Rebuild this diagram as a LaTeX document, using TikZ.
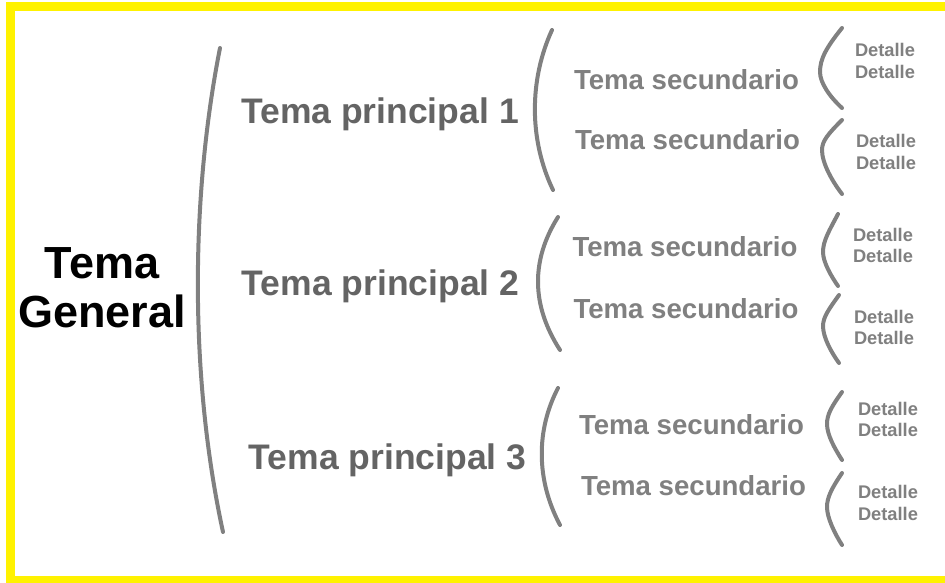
\documentclass[tikz,border=0pt]{standalone}
\usepackage{fontspec}
\setmainfont{Liberation Sans}

\definecolor{marcoAmarillo}{RGB}{255,242,0}
\definecolor{llaveGris}{RGB}{128,128,128}
\definecolor{textoPrincipal}{RGB}{100,100,100}
\definecolor{textoSecundario}{RGB}{128,128,128}

\begin{document}
\begin{tikzpicture}[
  x=1pt, y=-1pt,
  mygeneral/.style={
     font=\fontsize{45}{49}\selectfont\bfseries,
     align=center,
     inner sep=0pt},
  myprincipal/.style={font=\fontsize{35.5}{40}\selectfont\bfseries,
     text=textoPrincipal, anchor=base, inner sep=0pt},
  mysecundario/.style={font=\fontsize{27.6}{32}\selectfont\bfseries,
     text=textoSecundario, anchor=base, inner sep=0pt},
  mydetalle/.style={font=\fontsize{18.3}{21.7}\selectfont\bfseries,
     text=textoSecundario, align=center, inner sep=0pt},
  mybrace/.style={draw=llaveGris, line width=4pt, line cap=round}
  ]
  \useasboundingbox (0,0) rectangle (945,582);
  \clip (0,0) rectangle (945,582);
  \fill[white] (0,0) rectangle (945,582);
  % frame, open on the right
  \draw[marcoAmarillo, line width=9pt] (950,6.5) -- (10,6.5) -- (10,580.5) -- (950,580.5);

  % general topic
  \node[mygeneral] (general) at (102,288) {Tema\\General};

  % main topics
  \node[myprincipal] (p1) at (380,123) {Tema principal 1};
  \node[myprincipal] (p2) at (380.5,295) {Tema principal 2};
  \node[myprincipal] (p3) at (387.5,469) {Tema principal 3};

  % secondary topics
  \node[mysecundario] (s1a) at (686.5,89.5) {Tema secundario};
  \node[mysecundario] (s1b) at (687.5,149.5) {Tema secundario};
  \node[mysecundario] (s2a) at (685,256) {Tema secundario};
  \node[mysecundario] (s2b) at (686,318) {Tema secundario};
  \node[mysecundario] (s3a) at (691.5,434) {Tema secundario};
  \node[mysecundario] (s3b) at (693.5,495) {Tema secundario};

  % details
  \node[mydetalle] (d1a) at (885,61) {Detalle\\Detalle};
  \node[mydetalle] (d1b) at (886,152) {Detalle\\Detalle};
  \node[mydetalle] (d2a) at (883,245.5) {Detalle\\Detalle};
  \node[mydetalle] (d2b) at (884,327.5) {Detalle\\Detalle};
  \node[mydetalle] (d3a) at (888,419.5) {Detalle\\Detalle};
  \node[mydetalle] (d3b) at (888,503) {Detalle\\Detalle};

% braces
\draw[mybrace] (220,48) .. controls (190,200) and (190,380) .. (223,532);

\draw[mybrace] (552,30) .. controls (529,80) and (529,140) .. (553,190);
\draw[mybrace] (558,217) .. controls (531,260) and (531,305) .. (560,350);
\draw[mybrace] (558,388) .. controls (536,430) and (536,480) .. (560,525);

\draw[mybrace] (842,28) .. controls (826,48) and (820,59) .. (820,72)
   .. controls (820,83) and (830,97) .. (842,108);
\draw[mybrace] (842,120) .. controls (828,134) and (822,141) .. (822,150)
   .. controls (822,163) and (832,181) .. (842,194);
\draw[mybrace] (838,214) .. controls (829,231) and (823,241) .. (823,252)
   .. controls (823,262) and (831,276) .. (838,286);
\draw[mybrace] (839,295) .. controls (829,309) and (823,317) .. (823,326)
   .. controls (823,337) and (831,352) .. (839,363);
\draw[mybrace] (842,392) .. controls (832,406) and (827,414) .. (827,424)
   .. controls (827,435) and (835,449) .. (842,460);
\draw[mybrace] (842,473) .. controls (832,488) and (827,497) .. (827,507)
   .. controls (827,518) and (835,534) .. (842,545);

\end{tikzpicture}
\end{document}
